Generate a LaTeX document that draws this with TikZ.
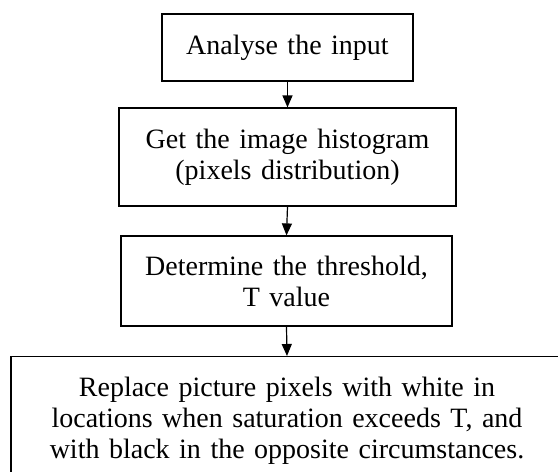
\documentclass[tikz,border=0pt]{standalone}
\usepackage{fontspec}
\setmainfont{Liberation Serif}
\usetikzlibrary{arrows.meta}
\newcommand{\flowboxfont}{\fontsize{28}{31}\selectfont\spaceskip=0.34em plus 0.1em minus 0.05em\relax}
\begin{document}
\begin{tikzpicture}[x=1pt,y=-1pt,
  box/.style={draw, line width=1.2pt, align=center, font=\flowboxfont, inner sep=0pt},
  arr/.style={-{Triangle[length=12pt,width=10pt]}, line width=1.2pt}]
\useasboundingbox (0,0) rectangle (558,472);
\clip (0,0) rectangle (558,472);
\node[box, minimum width=251, minimum height=67] (b1) at (287.5,47.5) {Analyse the input};
\node[box, minimum width=337, minimum height=98] (b2) at (287.5,157) {Get the image histogram\\(pixels distribution)};
\node[box, minimum width=331, minimum height=90] (b3) at (286.5,281) {Determine the threshold,\\T value};
\node[box, anchor=north, minimum width=552, inner ysep=20pt] (b4) at (287,356) {Replace picture pixels with white in\\locations when saturation exceeds T, and\\with black in the opposite circumstances.};
\draw[arr] (b1.south) -- (b2.north);
\draw[arr] (b2.south) -- (b3.north);
\draw[arr] (b3.south) -- (b4.north);
\end{tikzpicture}
\end{document}
